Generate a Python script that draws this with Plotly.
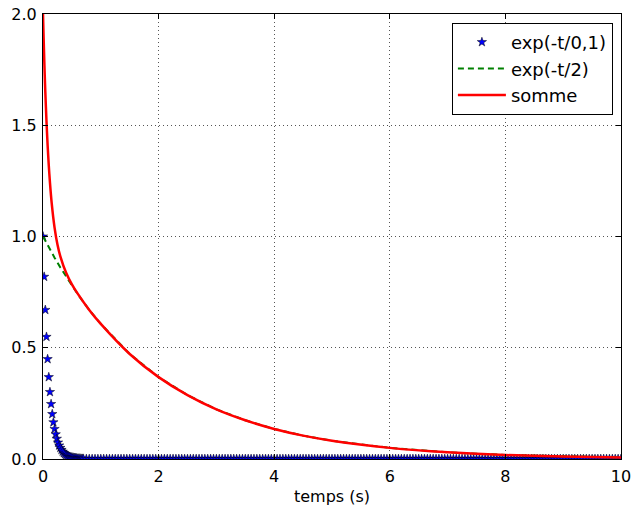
import plotly.graph_objects as go

# exp(-t/0,1): values (t step 0.02 near the origin, then flat at 0)
star_t_head = [0.0, 0.02, 0.04, 0.06, 0.08, 0.10, 0.12, 0.14, 0.16, 0.18,
               0.20, 0.22, 0.24, 0.26, 0.28, 0.30, 0.32, 0.34, 0.36, 0.38,
               0.40, 0.42, 0.44, 0.46, 0.48, 0.50, 0.52, 0.54, 0.56, 0.58,
               0.60, 0.62, 0.64, 0.66, 0.68, 0.70]
star_y_head = [1.0, 0.819, 0.670, 0.549, 0.449, 0.368, 0.301, 0.247, 0.202, 0.165,
               0.135, 0.111, 0.091, 0.074, 0.061, 0.050, 0.041, 0.033, 0.027, 0.022,
               0.018, 0.015, 0.012, 0.010, 0.008, 0.007, 0.006, 0.005, 0.004, 0.003,
               0.002, 0.002, 0.002, 0.001, 0.001, 0.001]
star_t_tail = [0.75, 0.8, 0.85, 0.9, 0.95, 1.0, 1.05, 1.1, 1.15, 1.2, 1.25, 1.3, 1.35, 1.4, 1.45,
               1.5, 1.55, 1.6, 1.65, 1.7, 1.75, 1.8, 1.85, 1.9, 1.95, 2.0, 2.05, 2.1, 2.15, 2.2,
               2.25, 2.3, 2.35, 2.4, 2.45, 2.5, 2.55, 2.6, 2.65, 2.7, 2.75, 2.8, 2.85, 2.9, 2.95,
               3.0, 3.05, 3.1, 3.15, 3.2, 3.25, 3.3, 3.35, 3.4, 3.45, 3.5, 3.55, 3.6, 3.65, 3.7,
               3.75, 3.8, 3.85, 3.9, 3.95, 4.0, 4.05, 4.1, 4.15, 4.2, 4.25, 4.3, 4.35, 4.4, 4.45,
               4.5, 4.55, 4.6, 4.65, 4.7, 4.75, 4.8, 4.85, 4.9, 4.95, 5.0, 5.05, 5.1, 5.15, 5.2,
               5.25, 5.3, 5.35, 5.4, 5.45, 5.5, 5.55, 5.6, 5.65, 5.7, 5.75, 5.8, 5.85, 5.9, 5.95,
               6.0, 6.05, 6.1, 6.15, 6.2, 6.25, 6.3, 6.35, 6.4, 6.45, 6.5, 6.55, 6.6, 6.65, 6.7,
               6.75, 6.8, 6.85, 6.9, 6.95, 7.0, 7.05, 7.1, 7.15, 7.2, 7.25, 7.3, 7.35, 7.4, 7.45,
               7.5, 7.55, 7.6, 7.65, 7.7, 7.75, 7.8, 7.85, 7.9, 7.95, 8.0, 8.05, 8.1, 8.15, 8.2,
               8.25, 8.3, 8.35, 8.4, 8.45, 8.5, 8.55, 8.6, 8.65, 8.7, 8.75, 8.8, 8.85, 8.9, 8.95,
               9.0, 9.05, 9.1, 9.15, 9.2, 9.25, 9.3, 9.35, 9.4, 9.45, 9.5, 9.55, 9.6, 9.65, 9.7,
               9.75, 9.8, 9.85, 9.9, 9.95, 10.0]
star_y_tail = [0.0] * len(star_t_tail)

# exp(-t/2)
green_t = [0.0, 0.1, 0.2, 0.3, 0.4, 0.5, 0.6, 0.8, 1.0, 1.5, 2.0, 2.5, 3.0, 3.5, 4.0,
           4.5, 5.0, 6.0, 7.0, 8.0, 9.0, 10.0]
green_y = [1.0, 0.951, 0.905, 0.861, 0.819, 0.779, 0.741, 0.670, 0.607, 0.472, 0.368,
           0.287, 0.223, 0.174, 0.135, 0.105, 0.082, 0.050, 0.030, 0.018, 0.011, 0.007]

# somme
red_t = [0.0, 0.01, 0.02, 0.03, 0.04, 0.06, 0.08, 0.10, 0.12, 0.15, 0.20, 0.25, 0.30, 0.40,
         0.50, 0.60, 0.80, 1.0, 1.5, 2.0, 2.5, 3.0, 3.5, 4.0, 4.5, 5.0, 6.0, 7.0, 8.0, 9.0, 10.0]
red_y = [2.0, 1.900, 1.809, 1.726, 1.650, 1.519, 1.410, 1.319, 1.243, 1.151, 1.040, 0.964,
         0.911, 0.837, 0.785, 0.743, 0.670, 0.607, 0.472, 0.368, 0.287, 0.223, 0.174, 0.135,
         0.105, 0.082, 0.050, 0.030, 0.018, 0.011, 0.007]

x_ticks = [0, 2, 4, 6, 8, 10]
y_ticks = [0.0, 0.5, 1.0, 1.5, 2.0]

FONT = "DejaVu Sans"

fig = go.Figure()
fig.add_trace(go.Scatter(
    x=star_t_head + star_t_tail, y=star_y_head + star_y_tail,
    mode="markers", name="exp(-t/0,1)",
    marker=dict(symbol="star", size=7, color="#0000ff",
                line=dict(color="black", width=0.5)),
))
fig.add_trace(go.Scatter(
    x=green_t, y=green_y, mode="lines", name="exp(-t/2)",
    line=dict(color="#008000", width=2, dash="6px,4px"),
))
fig.add_trace(go.Scatter(
    x=red_t, y=red_y, mode="lines", name="somme",
    line=dict(color="#ff0000", width=2.5, shape="spline", smoothing=0.6),
))

axis_common = dict(
    showline=True, linecolor="black", linewidth=1, mirror="ticks",
    ticks="inside", ticklen=5, tickcolor="black", tickwidth=1,
    showgrid=True, gridcolor="#555555", griddash="1px,3px", gridwidth=1,
    zeroline=False, automargin=False,
    tickfont=dict(family=FONT, size=16, color="black"),
)

fig.update_layout(
    width=644, height=506,
    margin=dict(l=43, r=23, t=14, b=47),
    paper_bgcolor="white", plot_bgcolor="white",
    font=dict(family=FONT, color="black"),
    xaxis=dict(range=[0, 10], tickvals=x_ticks, ticktext=[str(v) for v in x_ticks],
               ticklabelstandoff=3,
               title=dict(text="temps (s)", font=dict(family=FONT, size=16), standoff=6),
               **axis_common),
    yaxis=dict(range=[0, 2], tickvals=y_ticks, ticktext=[f"{v:.1f}" for v in y_ticks],
               ticklabelstandoff=2,
               **axis_common),
    legend=dict(x=0.986, y=0.98, xanchor="right", yanchor="top",
                bgcolor="white", bordercolor="black", borderwidth=1,
                font=dict(family=FONT, size=18), itemwidth=48),
    showlegend=True,
)

fig.write_html("out.html")
